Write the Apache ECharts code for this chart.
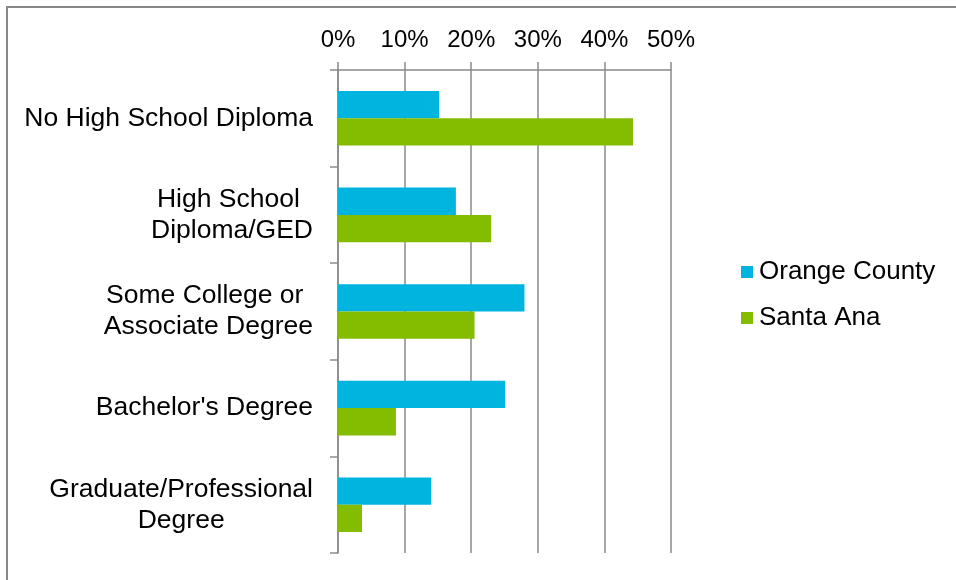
<!DOCTYPE html>
<html>
<head>
<meta charset="utf-8">
<style>
  html, body { margin: 0; padding: 0; background: #ffffff; }
  #chart { width: 956px; height: 580px; }
</style>
<script src="https://cdn.jsdelivr.net/npm/echarts@6/dist/echarts.min.js"></script>
</head>
<body>
<div id="chart"></div>
<script>
const categories = [
  "No High School Diploma",
  "High School \nDiploma/GED",
  "Some College or \nAssociate Degree",
  "Bachelor's Degree",
  "Graduate/Professional\nDegree"
];
const seriesNames = ["Orange County", "Santa Ana"];
const orangeCounty = [15.2, 17.7, 28.0, 25.1, 14.0];
const santaAna = [44.3, 23.0, 20.5, 8.7, 3.6];
const xTicks = [0, 10, 20, 30, 40, 50];

const colors = ["#00B4E0", "#84BC00"];
const gridColor = "#8a8a8a";
const font = "'Liberation Sans', Arial, sans-serif";

const chart = echarts.init(document.getElementById('chart'));
chart.setOption({
  animation: false,
  backgroundColor: '#ffffff',
  grid: { left: 338, right: 285, top: 70, bottom: 27, containLabel: false },
  legend: {
    orient: 'vertical',
    left: 741,
    top: 259,
    padding: 0,
    itemWidth: 12,
    itemHeight: 12,
    itemGap: 20,
    icon: 'rect',
    textStyle: { fontFamily: font, fontSize: 26, lineHeight: 26, color: '#000', padding: [0, 0, 0, 1] },
    data: seriesNames
  },
  xAxis: {
    type: 'value',
    position: 'top',
    min: xTicks[0],
    max: xTicks[xTicks.length - 1],
    interval: xTicks[1] - xTicks[0],
    axisLine: { show: true, lineStyle: { color: gridColor, width: 1.5 } },
    axisTick: { show: true, length: 8, lineStyle: { color: gridColor, width: 1.5 } },
    splitLine: { show: true, lineStyle: { color: gridColor, width: 1.5 } },
    axisLabel: {
      margin: 18,
      fontFamily: font,
      fontSize: 24,
      color: '#000',
      formatter: v => v + '%'
    }
  },
  yAxis: {
    type: 'category',
    inverse: true,
    data: categories,
    axisLine: { show: true, lineStyle: { color: gridColor, width: 1.5 } },
    axisTick: { show: true, length: 8, alignWithLabel: false, lineStyle: { color: gridColor, width: 1.5 } },
    axisLabel: {
      margin: 25,
      align: 'right',
      formatter: v => v.split('\n').map(l => '{c|' + l + '}').join('\n'),
      rich: {
        c: { align: 'center', fontFamily: font, fontSize: 26.5, lineHeight: 31, color: '#000' }
      }
    }
  },
  series: [
    {
      name: seriesNames[0], type: 'bar', data: orangeCounty,
      itemStyle: { color: colors[0] },
      barGap: '0%', barCategoryGap: '43.5%'
    },
    {
      name: seriesNames[1], type: 'bar', data: santaAna,
      itemStyle: { color: colors[1] },
      barGap: '0%', barCategoryGap: '43.5%'
    }
  ],
  graphic: [{
    type: 'rect',
    shape: { x: 7, y: 7, width: 1000, height: 1000 },
    style: { fill: 'none', stroke: '#878787', lineWidth: 2 },
    silent: true
  }]
});
</script>
</body>
</html>
